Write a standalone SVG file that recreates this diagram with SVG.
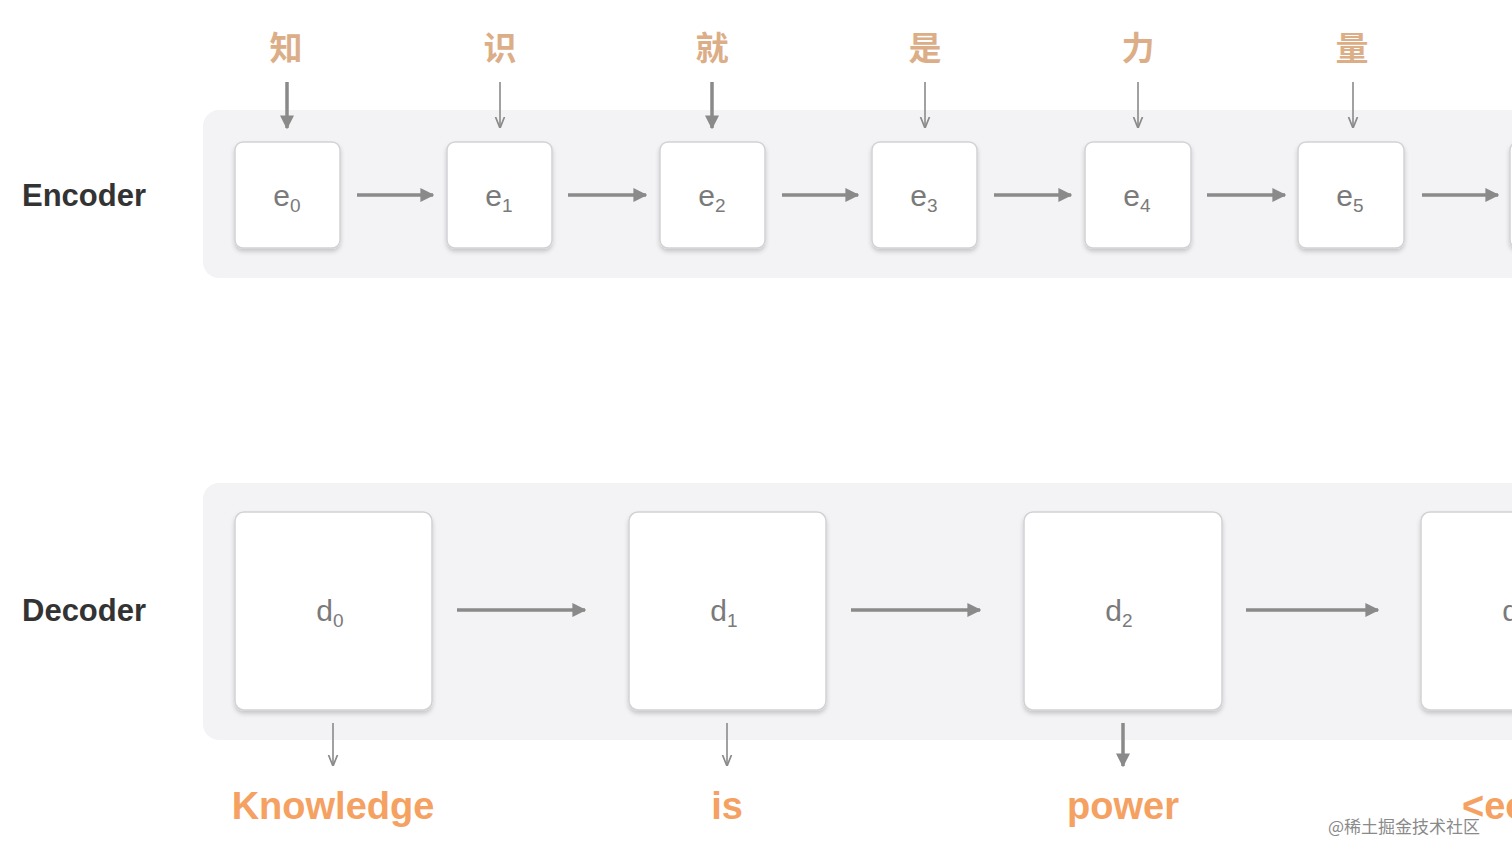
<svg xmlns="http://www.w3.org/2000/svg" width="1512" height="861" viewBox="0 0 1512 861">
<defs>
<marker id="ah" viewBox="0 0 10 10" refX="9" refY="5" markerWidth="4" markerHeight="4" markerUnits="strokeWidth" orient="auto">
<path d="M0,0 L10,5 L0,10 z" fill="#8a8a8a"/>
</marker>
<marker id="ahs" viewBox="0 0 10 10" refX="9" refY="5" markerWidth="7" markerHeight="7" markerUnits="strokeWidth" orient="auto">
<path d="M0,1 L10,5 L0,9" fill="none" stroke="#8a8a8a" stroke-width="1.5"/>
</marker>
<filter id="sh" x="-10%" y="-10%" width="120%" height="125%">
<feDropShadow dx="0" dy="3" stdDeviation="2" flood-color="#000" flood-opacity="0.18"/>
</filter>
</defs>
<style>
.band{fill:#f3f3f6}
.box{fill:#ffffff;stroke:#d2d2d6;stroke-width:1.5;filter:url(#sh)}
.lbl{font-family:"Liberation Sans",Arial,sans-serif;font-weight:bold;font-size:31px;fill:#333}
.node{font-family:"Liberation Sans",Arial,sans-serif;font-size:30px;fill:#7a7a7a;text-anchor:middle}
.sub{font-size:19px}
.cn{font-family:"Noto Sans CJK SC",sans-serif;font-size:33px;fill:#dcae88;text-anchor:middle;font-weight:bold}
.out{font-family:"Liberation Sans",Arial,sans-serif;font-weight:bold;font-size:38px;fill:#f5a162;text-anchor:middle}
.h{stroke:#8a8a8a;stroke-width:3.5;fill:none;marker-end:url(#ah)}
.v{stroke:#8a8a8a;stroke-width:1.6;fill:none;marker-end:url(#ahs)}
.vt{stroke:#8a8a8a;stroke-width:3.5;fill:none;marker-end:url(#ah)}
.wm{font-family:"Noto Sans CJK SC",sans-serif;font-size:17px;fill:#8a8a8a}
</style>
<rect width="1512" height="861" fill="#ffffff"/>
<rect class="band" x="203" y="110" width="1340" height="168" rx="16"/>
<rect class="band" x="203" y="483" width="1340" height="257" rx="16"/>
<text class="lbl" x="22" y="206">Encoder</text>
<text class="lbl" x="22" y="621">Decoder</text>
<g id="e0"><rect class="box" x="235" y="142" width="105" height="106" rx="8"/><text class="node" x="287" y="206">e<tspan class="sub" dy="6">0</tspan></text></g>
<g id="e1"><rect class="box" x="447" y="142" width="105" height="106" rx="8"/><text class="node" x="499" y="206">e<tspan class="sub" dy="6">1</tspan></text></g>
<g id="e2"><rect class="box" x="660" y="142" width="105" height="106" rx="8"/><text class="node" x="712" y="206">e<tspan class="sub" dy="6">2</tspan></text></g>
<g id="e3"><rect class="box" x="872" y="142" width="105" height="106" rx="8"/><text class="node" x="924" y="206">e<tspan class="sub" dy="6">3</tspan></text></g>
<g id="e4"><rect class="box" x="1085" y="142" width="106" height="106" rx="8"/><text class="node" x="1137" y="206">e<tspan class="sub" dy="6">4</tspan></text></g>
<g id="e5"><rect class="box" x="1298" y="142" width="106" height="106" rx="8"/><text class="node" x="1350" y="206">e<tspan class="sub" dy="6">5</tspan></text></g>
<g id="e6"><rect class="box" x="1510" y="142" width="106" height="106" rx="8"/></g>
<g id="in"><text class="cn" x="286" y="60">知</text><text class="cn" x="500" y="60">识</text><text class="cn" x="712" y="60">就</text><text class="cn" x="925" y="60">是</text><text class="cn" x="1138" y="60">力</text><text class="cn" x="1352" y="60">量</text></g>
<g id="d0"><rect class="box" x="235" y="512" width="197" height="198" rx="9"/><text class="node" x="330" y="621">d<tspan class="sub" dy="6">0</tspan></text></g>
<g id="d1"><rect class="box" x="629" y="512" width="197" height="198" rx="9"/><text class="node" x="724" y="621">d<tspan class="sub" dy="6">1</tspan></text></g>
<g id="d2"><rect class="box" x="1024" y="512" width="198" height="198" rx="9"/><text class="node" x="1119" y="621">d<tspan class="sub" dy="6">2</tspan></text></g>
<g id="d3"><rect class="box" x="1421" y="512" width="198" height="198" rx="9"/><text class="node" x="1516" y="621">d<tspan class="sub" dy="6">3</tspan></text></g>
<g id="outs"><text class="out" x="333" y="819">Knowledge</text><text class="out" x="727" y="819">is</text><text class="out" x="1123" y="819">power</text><text class="out" x="1462" y="819" style="text-anchor:start">&lt;eos&gt;</text></g>
<g id="connectors">
<line class="h" x1="357" y1="195" x2="433" y2="195"/>
<line class="h" x1="568" y1="195" x2="646" y2="195"/>
<line class="h" x1="782" y1="195" x2="858" y2="195"/>
<line class="h" x1="994" y1="195" x2="1071" y2="195"/>
<line class="h" x1="1207" y1="195" x2="1285" y2="195"/>
<line class="h" x1="1422" y1="195" x2="1498" y2="195"/>
<line class="vt" x1="287" y1="82" x2="287" y2="128"/>
<line class="v" x1="500" y1="82" x2="500" y2="127"/>
<line class="vt" x1="712" y1="82" x2="712" y2="128"/>
<line class="v" x1="925" y1="82" x2="925" y2="127"/>
<line class="v" x1="1138" y1="82" x2="1138" y2="127"/>
<line class="v" x1="1353" y1="82" x2="1353" y2="127"/>
<line class="h" x1="457" y1="610" x2="585" y2="610"/>
<line class="h" x1="851" y1="610" x2="980" y2="610"/>
<line class="h" x1="1246" y1="610" x2="1378" y2="610"/>
<line class="v" x1="333" y1="723" x2="333" y2="765"/>
<line class="v" x1="727" y1="723" x2="727" y2="765"/>
<line class="vt" x1="1123" y1="723" x2="1123" y2="766"/>
</g>
<text class="wm" x="1328" y="833">@稀土掘金技术社区</text>
</svg>
